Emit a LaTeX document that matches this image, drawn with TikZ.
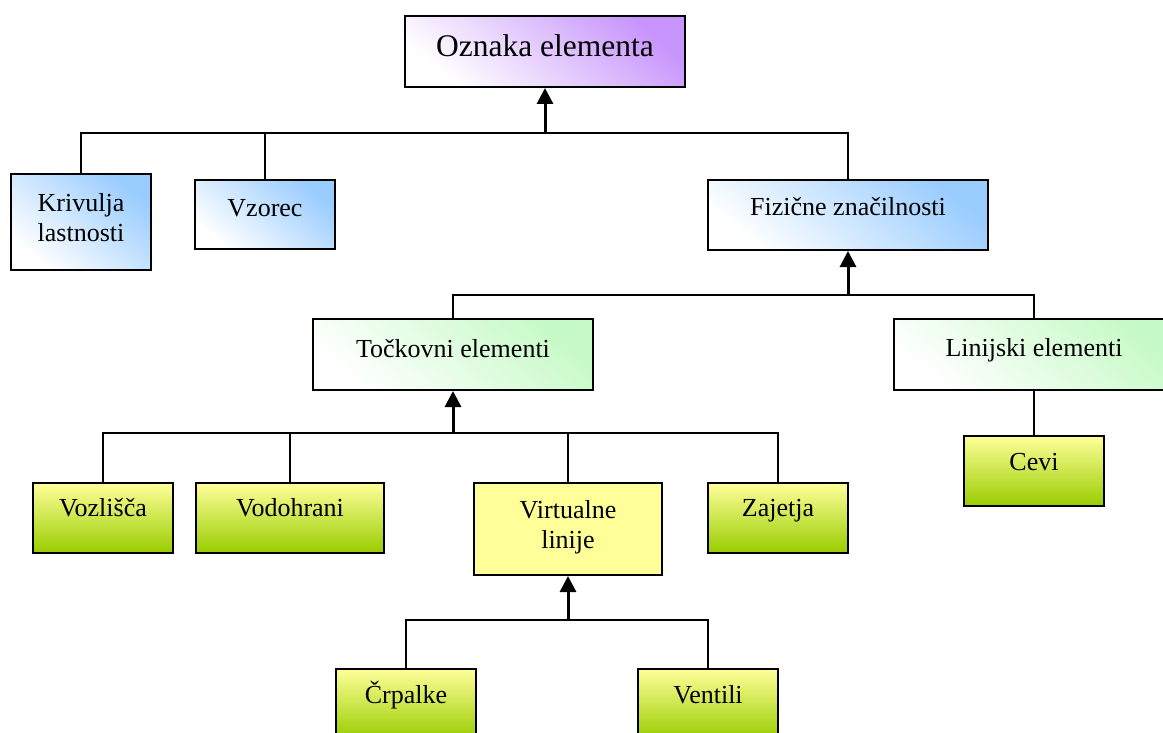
\documentclass[tikz,border=0pt]{standalone}
\usepackage{fontspec}
\setmainfont{Liberation Serif}
\usetikzlibrary{arrows.meta}
\definecolor{purp}{HTML}{C795FC}
\definecolor{blu}{HTML}{99CCFF}
\definecolor{grn}{HTML}{C6FAC6}
\definecolor{ylw}{HTML}{FFFF99}
\definecolor{lime}{HTML}{99CC00}
\tikzset{
  box/.style={draw=black, line width=2pt, anchor=north, inner sep=0pt,
    align=center, font=\fontsize{26}{30}\selectfont},
  purpbox/.style={box, top color=purp, bottom color=white, shading angle=-40},
  bluebox/.style={box, top color=blu, bottom color=white, shading angle=-40},
  grnbox/.style={box, top color=grn, bottom color=white, shading angle=-40},
  limebox/.style={box, top color=ylw, bottom color=lime},
  ylwbox/.style={box, fill=ylw},
  conn/.style={line width=2pt},
  arr/.style={line width=3pt, -{Triangle[length=16pt,width=16pt]}},
}
\begin{document}
\begin{tikzpicture}[x=1pt,y=-1pt]
\useasboundingbox (0,0) rectangle (1163,733);
\clip (0,0) rectangle (1163,733);
% nodes
\node[purpbox, minimum width=280pt, text height=41pt, text depth=30pt,
  font=\fontsize{31.5}{36}\selectfont] (ozn) at (545,15) {Oznaka elementa};
\node[bluebox, minimum width=140pt, text height=67pt, text depth=29pt] (kriv) at (81,173) {Krivulja\\lastnosti};
\node[bluebox, minimum width=140pt, text height=36pt, text depth=33pt] (vzor) at (265,179) {Vzorec};
\node[bluebox, minimum width=280pt, text height=35pt, text depth=35pt] (fiz) at (848,179) {Fizične značilnosti};
\node[grnbox, minimum width=280pt, text height=38pt, text depth=33pt] (toc) at (453,318) {Točkovni elementi};
\node[grnbox, minimum width=280pt, text height=37pt, text depth=34pt] (lin) at (1034,318) {Linijski elementi};
\node[limebox, minimum width=140pt, text height=34pt, text depth=36pt] (cevi) at (1034,435) {Cevi};
\node[limebox, minimum width=140pt, text height=33pt, text depth=37pt] (vozl) at (103,482) {Vozlišča};
\node[limebox, minimum width=188pt, text height=33pt, text depth=37pt] (vodo) at (290,482) {Vodohrani};
\node[ylwbox, minimum width=188pt, text height=65pt, text depth=27pt] (virt) at (568,482) {Virtualne\\linije};
\node[limebox, minimum width=140pt, text height=33pt, text depth=37pt] (zaj) at (778,482) {Zajetja};
\node[limebox, minimum width=140pt, text height=34pt, text depth=36pt] (crp) at (406,668) {Črpalke};
\node[limebox, minimum width=140pt, text height=34pt, text depth=36pt] (vent) at (708,668) {Ventili};
% bus points
\coordinate (b1) at (545,133);
\coordinate (b2) at (848,295);
\coordinate (b3) at (453,433);
\coordinate (b4) at (568,620);
% connectors
\draw[conn] (kriv.north) |- (b1);
\draw[conn] (vzor.north) |- (b1);
\draw[conn] (fiz.north) |- (b1);
\draw[arr] (b1) -- (ozn.south);
\draw[conn] (toc.north) |- (b2);
\draw[conn] (lin.north) |- (b2);
\draw[arr] (b2) -- (fiz.south);
\draw[conn] (lin.south) -- (cevi.north);
\draw[conn] (vozl.north) |- (b3);
\draw[conn] (vodo.north) |- (b3);
\draw[conn] (virt.north) |- (b3);
\draw[conn] (zaj.north) |- (b3);
\draw[arr] (b3) -- (toc.south);
\draw[conn] (crp.north) |- (b4);
\draw[conn] (vent.north) |- (b4);
\draw[arr] (b4) -- (virt.south);
\end{tikzpicture}
\end{document}
